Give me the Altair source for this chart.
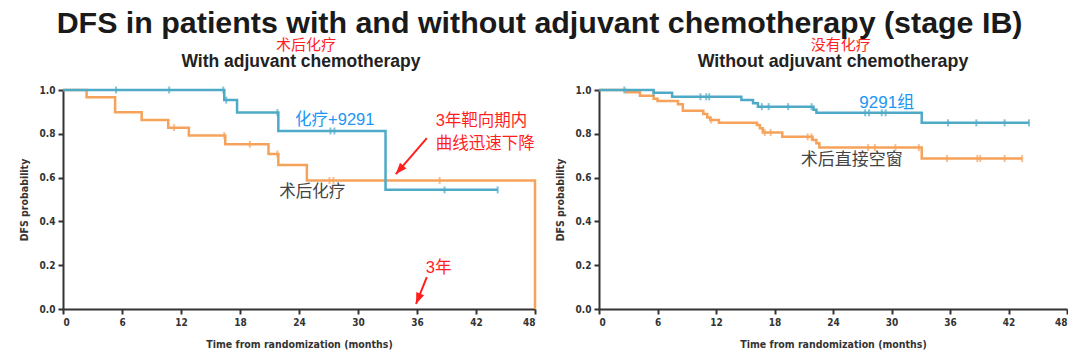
import altair as alt
import pandas as pd

# ---------------- data ----------------
# Left panel: with adjuvant chemotherapy
L_blue_t = [0, 16.4, 17.7, 21.9, 32.8, 44.2]
L_blue_s = [1.0, 0.954, 0.897, 0.813, 0.544, 0.544]
L_blue_ct = [5.4, 10.8, 16.3, 16.6, 21.8, 27.2, 27.6, 38.8, 44.2]
L_blue_cs = [1.0, 1.0, 1.0, 0.954, 0.897, 0.813, 0.813, 0.544, 0.544]

L_orng_t = [0, 2.4, 5.3, 8.0, 10.7, 12.8, 16.5, 20.9, 21.9, 24.8, 48.0]
L_orng_s = [1.0, 0.967, 0.898, 0.863, 0.828, 0.792, 0.752, 0.708, 0.658, 0.587, 0.0]
L_orng_ct = [11.3, 16.4, 19.0, 21.8, 27.1, 27.5, 38.3]
L_orng_cs = [0.828, 0.792, 0.752, 0.708, 0.587, 0.587, 0.587]

# Right panel: without adjuvant chemotherapy
R_blue_t = [0, 5.6, 7.5, 14.6, 15.8, 16.3, 22.0, 22.3, 33.1, 44.1]
R_blue_s = [1.0, 0.988, 0.969, 0.954, 0.94, 0.924, 0.91, 0.896, 0.85, 0.85]
R_blue_ct = [2.6, 5.6, 10.4, 11.0, 11.3, 16.7, 17.4, 19.4, 21.8, 27.3, 27.7, 29.0, 29.4, 35.8, 38.7, 41.6, 44.1]
R_blue_cs = [1.0, 0.988, 0.969, 0.969, 0.969, 0.924, 0.924, 0.924, 0.924, 0.896, 0.896, 0.896, 0.896, 0.85, 0.85, 0.85, 0.85]

R_orng_t = [0, 2.8, 4.2, 5.6, 6.0, 8.1, 8.6, 10.7, 11.1, 11.4, 12.3, 16.2, 16.5, 16.8, 18.8, 21.9, 22.3, 22.6, 33.1, 43.4]
R_orng_s = [1.0, 0.99, 0.974, 0.96, 0.95, 0.935, 0.905, 0.89, 0.875, 0.863, 0.85, 0.84, 0.825, 0.806, 0.786, 0.772, 0.757, 0.737, 0.687, 0.687]
R_orng_ct = [11.5, 17.0, 17.6, 21.4, 21.8, 27.6, 28.3, 30.4, 32.8, 35.7, 38.8, 39.1, 41.6, 43.4]
R_orng_cs = [0.863, 0.806, 0.806, 0.786, 0.786, 0.737, 0.737, 0.737, 0.737, 0.687, 0.687, 0.687, 0.687, 0.687]

x_ticks = [0, 6, 12, 18, 24, 30, 36, 42, 48]
y_ticks = [0.0, 0.1, 0.2, 0.3, 0.4, 0.5, 0.6, 0.7, 0.8, 0.9, 1.0]

main_title = "DFS in patients with and without adjuvant chemotherapy (stage IB)"
x_title = "Time from randomization (months)"
y_title = "DFS probability"

# annotations: (month, probability, text, color, fontsize, align, weight)
L_texts = [
    (24.2, 1.128, "With adjuvant chemotherapy", "#222222", 17.5, "center", "bold"),
    (24.7, 1.205, "术后化疗", "#ff1f1f", 15, "center", "normal"),
    (23.6, 0.863, "化疗+9291", "#2196f3", 16.5, "left", "normal"),
    (22.0, 0.534, "术后化疗", "#444444", 16.5, "left", "normal"),
    (37.9, 0.858, "3年靶向期内", "#ff1f1f", 16.5, "left", "normal"),
    (37.9, 0.753, "曲线迅速下降", "#ff1f1f", 16.5, "left", "normal"),
    (36.9, 0.187, "3年", "#ff1f1f", 16.5, "left", "normal"),
]
R_texts = [
    (24.0, 1.128, "Without adjuvant chemotherapy", "#222222", 17.8, "center", "bold"),
    (24.8, 1.205, "没有化疗", "#ff1f1f", 15, "center", "normal"),
    (26.7, 0.94, "9291组", "#2196f3", 17, "left", "normal"),
    (20.7, 0.68, "术后直接空窗", "#444444", 17, "left", "normal"),
]
# arrows: start month, start prob, tip month, tip prob, angle
L_arrow_t0 = [37.0, 37.0]
L_arrow_s0 = [0.78, 0.146]
L_arrow_t1 = [33.85, 35.9]
L_arrow_s1 = [0.616, 0.023]
L_arrow_ang = [221, 202]

BLUE = "#4eaac6"
ORANGE = "#f6a25a"
FONT = "Liberation Sans, Noto Sans CJK SC, sans-serif"

xs = alt.Scale(domain=[0, 48], nice=False, zero=False)
ys = alt.Scale(domain=[0, 1], nice=False)


def panel(bt, bs, bct, bcs, ot, os_, oct_, ocs, texts, width, arrows=None):
    xax = alt.Axis(values=x_ticks, title=x_title, format="d")
    yax = alt.Axis(values=y_ticks, title=y_title, format=".1f")
    layers = []
    for t, s, c in [(ot, os_, ORANGE), (bt, bs, BLUE)]:
        df = pd.DataFrame({"t": t, "s": s})
        layers.append(
            alt.Chart(df).mark_line(interpolate="step-after", color=c, strokeWidth=2.5).encode(
                x=alt.X("t:Q", scale=xs, axis=xax), y=alt.Y("s:Q", scale=ys, axis=yax)
            )
        )
    for t, s, c in [(oct_, ocs, ORANGE), (bct, bcs, BLUE)]:
        df = pd.DataFrame({"t": t, "s": s})
        layers.append(
            alt.Chart(df).mark_tick(orient="vertical", color=c, size=7, thickness=2).encode(
                x=alt.X("t:Q", scale=xs), y=alt.Y("s:Q", scale=ys)
            )
        )
    tdf = pd.DataFrame(texts, columns=["t", "s", "label", "color", "fs", "al", "wt"])
    for al in ["left", "center"]:
        for w in ["bold", "normal"]:
            sub = tdf[(tdf["al"] == al) & (tdf["wt"] == w)].reset_index(drop=True)
            if len(sub) == 0:
                continue
            layers.append(
                alt.Chart(sub).mark_text(align=al, baseline="middle", font=FONT, fontWeight=w).encode(
                    x=alt.X("t:Q", scale=xs), y=alt.Y("s:Q", scale=ys), text="label:N",
                    color=alt.Color("color:N", scale=None), size=alt.Size("fs:Q", scale=None),
                )
            )
    if arrows is not None:
        adf = pd.DataFrame(arrows)
        layers.append(
            alt.Chart(adf).mark_rule(color="#ff1f1f", strokeWidth=2).encode(
                x=alt.X("t0:Q", scale=xs), y=alt.Y("s0:Q", scale=ys), x2="t1:Q", y2="s1:Q"
            )
        )
        layers.append(
            alt.Chart(adf).mark_point(shape="M0,0L-0.38,1L0.38,1Z", filled=True, color="#ff1f1f", opacity=1, size=500).encode(
                x=alt.X("t1:Q", scale=xs), y=alt.Y("s1:Q", scale=ys), angle=alt.Angle("ang:Q", scale=None)
            )
        )
    return alt.layer(*layers).properties(width=width, height=219)


left = panel(L_blue_t, L_blue_s, L_blue_ct, L_blue_cs, L_orng_t, L_orng_s, L_orng_ct, L_orng_cs, L_texts, 472,
             arrows={"t0": L_arrow_t0, "s0": L_arrow_s0, "t1": L_arrow_t1, "s1": L_arrow_s1, "ang": L_arrow_ang})
right = panel(R_blue_t, R_blue_s, R_blue_ct, R_blue_cs, R_orng_t, R_orng_s, R_orng_ct, R_orng_cs, R_texts, 468)

chart = alt.hconcat(left, right, spacing=15).properties(
    title=alt.TitleParams(main_title, fontSize=30.4, font="Liberation Sans", fontWeight="bold", color="#1a1a1a",
                          anchor="middle", offset=-1, dx=-4),
    padding={"left": 11, "top": 0, "right": 0, "bottom": 0},
).configure_view(stroke=None).configure_axis(
    grid=False, domainColor="#333333", domainWidth=2, tickColor="#333333", tickWidth=2, tickSize=5,
    labelFont="DejaVu Sans Condensed", labelFontSize=10, labelFontWeight="bold", labelColor="#333333",
    titleFont="DejaVu Sans Condensed", titleFontSize=10.5, titleFontWeight="bold", titleColor="#333333",
    labelPadding=3,
).configure_axisX(titlePadding=12).configure_axisY(titlePadding=10)

chart.save("out.html", embed_options={"renderer": "svg", "actions": False})
